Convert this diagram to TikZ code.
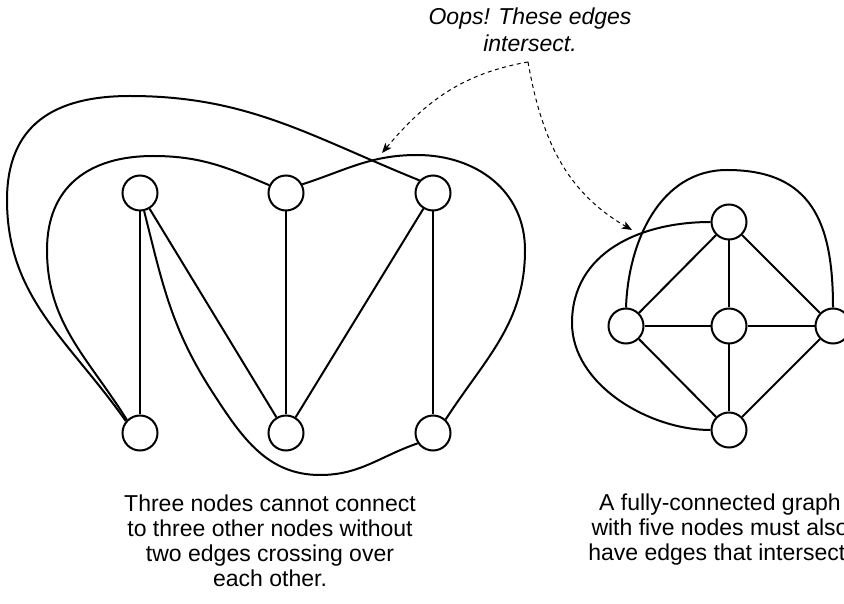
\documentclass[tikz,border=0pt]{standalone}
\usepackage{fontspec}
\setmainfont{Liberation Sans}
\usetikzlibrary{arrows.meta}
\begin{document}
\begin{tikzpicture}[x=1pt,y=1pt,
  vtx/.style={circle,draw,line width=2pt,fill=white,minimum size=35pt,inner sep=0pt},
  edge/.style={line width=2pt},
  pointer/.style={line width=1pt,dash pattern=on 4pt off 3.5pt,-{Stealth[length=10pt,width=8pt,inset=2.5pt]}},
  caption/.style={align=center,font=\fontsize{23}{25}\selectfont,inner sep=0pt,anchor=north}]
\clip (0,0) rectangle (844,603);
% left graph (K3,3)
\node[vtx] (T1) at (140,410) {};
\node[vtx] (T2) at (286,410) {};
\node[vtx] (T3) at (433,410) {};
\node[vtx] (B1) at (140,170) {};
\node[vtx] (B2) at (286,170) {};
\node[vtx] (B3) at (433,170) {};
\draw[edge] (T1) -- (B1);
\draw[edge] (T1) -- (B2);
\draw[edge] (T2) -- (B2);
\draw[edge] (T3) -- (B2);
\draw[edge] (T3) -- (B3);
\draw[edge] (B1.140) to[out=125,in=-90] (7,403) to[out=90,in=180,looseness=1.2] (130,507) to[out=0,in=158] (T3.137);
\draw[edge] (B1.135) to[out=122,in=-90] (47,353) to[out=90,in=180,looseness=1.15] (153,447) to[out=0,in=157] (T2.155);
\draw[edge] (T2.28) to[out=18,in=180] (417,448) to[out=0,in=90,looseness=1.05] (525,353) to[out=-90,in=57] (B3.47);
\draw[edge] (T1.283) to[out=-76,in=123] (213,210) to[out=-57,in=180] (320,128) to[out=0,in=199] (B3.214);
% right graph (K5)
\node[vtx] (Tn) at (729,381) {};
\node[vtx] (L) at (626,277) {};
\node[vtx] (C) at (729,277) {};
\node[vtx] (R) at (833,277) {};
\node[vtx] (Bn) at (729,173) {};
\draw[edge] (Tn) -- (L);
\draw[edge] (Tn) -- (C);
\draw[edge] (Tn) -- (R);
\draw[edge] (L) -- (C);
\draw[edge] (C) -- (R);
\draw[edge] (L) -- (Bn);
\draw[edge] (C) -- (Bn);
\draw[edge] (R) -- (Bn);
\draw[edge] (L.90) to[out=88,in=180,looseness=1.0] (727,433) to[out=0,in=90,looseness=1.25] (R.90);
\draw[edge] (Tn.180) to[out=180,in=90,looseness=1.05] (572,280) to[out=-90,in=180,looseness=0.9] (Bn.180);
% annotation
\coordinate (oops) at (528,541);
\coordinate (hitA) at (382,450);
\coordinate (hitB) at (632,373);
\draw[pointer] (oops) to[out=190,in=50] (hitA);
\draw[pointer] (oops) to[out=-80,in=150] (hitB);
\node[caption,font=\fontsize{23}{27}\selectfont\itshape] (oopstext) at (530,595) {Oops! These edges\\intersect.};
\node[caption] (lefttext) at (270,108) {Three nodes cannot connect\\to three other nodes without\\two edges crossing over\\each other.};
\node[caption] (righttext) at (720,109) {A fully-connected graph\\with five nodes must also\\have edges that intersect.};
\end{tikzpicture}
\end{document}
